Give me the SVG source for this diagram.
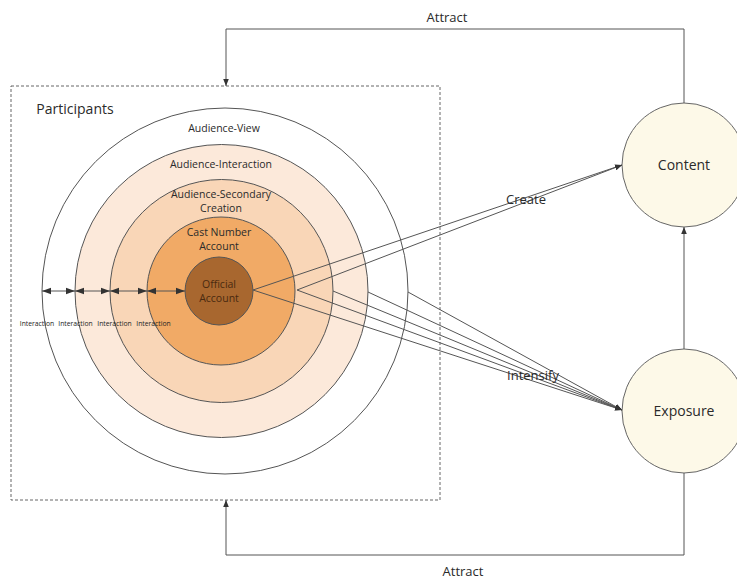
<svg xmlns="http://www.w3.org/2000/svg" width="737" height="579" viewBox="0 0 737 579">
<style>
text{font-family:"Open Sans","Noto Sans","DejaVu Sans",sans-serif;fill:#2a2a2a;text-anchor:middle}
.ring{stroke:#555;stroke-width:1}
.ln{stroke:#555;stroke-width:1;fill:none}
.lbl{font-size:10.5px}
.sm{font-size:6.8px;fill:#222}
.big{font-size:14px}
.node{fill:#fdf9e8;stroke:#666;stroke-width:1}
</style>
<defs>
<marker id="ah" viewBox="0 0 10 10" refX="10" refY="5" markerWidth="7" markerHeight="7" orient="auto-start-reverse" markerUnits="userSpaceOnUse">
<path d="M0,1 L10,5 L0,9 z" fill="#333"/>
</marker>
<marker id="ahb" viewBox="0 0 10 10" refX="10" refY="5" markerWidth="9" markerHeight="9" orient="auto-start-reverse" markerUnits="userSpaceOnUse">
<path d="M0,1.5 L10,5 L0,8.5 z" fill="#333"/>
</marker>
</defs>
<rect width="737" height="579" fill="#fff"/>
<g id="participants">
<rect x="11" y="86" width="429" height="414" fill="none" stroke="#666" stroke-width="1" stroke-dasharray="3,2"/>
<text x="75" y="114" class="big">Participants</text>
</g>
<g id="audience-view">
<circle cx="225" cy="291" r="183" fill="#fff" class="ring"/>
<text x="224" y="132" class="lbl">Audience-View</text>
</g>
<g id="audience-interaction">
<circle cx="221.5" cy="291" r="146.5" fill="#fce9da" class="ring"/>
<text x="221" y="168" class="lbl">Audience-Interaction</text>
</g>
<g id="audience-secondary">
<circle cx="221.5" cy="291" r="111.5" fill="#f9d6b7" class="ring"/>
<text x="221" y="198" class="lbl">Audience-Secondary</text>
<text x="221" y="212" class="lbl">Creation</text>
</g>
<g id="cast-number">
<circle cx="221" cy="291" r="74" fill="#f1aa66" class="ring"/>
<text x="219" y="236" class="lbl">Cast Number</text>
<text x="219" y="250" class="lbl">Account</text>
</g>
<g id="official">
<circle cx="219" cy="291" r="34" fill="#a8672f" class="ring"/>
<text x="219" y="288" class="lbl" style="fill:#4a2a10">Official</text>
<text x="219" y="302" class="lbl" style="fill:#4a2a10">Account</text>
</g>
<g id="content">
<circle cx="684" cy="165" r="62" class="node"/>
<text x="684" y="170" class="big">Content</text>
</g>
<g id="exposure">
<circle cx="684" cy="411" r="62" class="node"/>
<text x="684" y="416" class="big">Exposure</text>
</g>
<g id="connectors">
<line x1="42" y1="291" x2="75" y2="291" class="ln" stroke-width="1.5" marker-start="url(#ahb)" marker-end="url(#ahb)"/>
<line x1="75" y1="291" x2="110" y2="291" class="ln" stroke-width="1.5" marker-start="url(#ahb)" marker-end="url(#ahb)"/>
<line x1="110" y1="291" x2="147" y2="291" class="ln" stroke-width="1.5" marker-start="url(#ahb)" marker-end="url(#ahb)"/>
<line x1="147" y1="291" x2="185" y2="291" class="ln" stroke-width="1.5" marker-start="url(#ahb)" marker-end="url(#ahb)"/>
<line x1="253" y1="290" x2="622" y2="165" class="ln" marker-end="url(#ah)"/>
<line x1="297" y1="290" x2="622" y2="165" class="ln" marker-end="url(#ah)"/>
<line x1="253" y1="290" x2="622" y2="410" class="ln" marker-end="url(#ah)"/>
<line x1="297" y1="290" x2="622" y2="410" class="ln" marker-end="url(#ah)"/>
<line x1="333" y1="291" x2="622" y2="410" class="ln" marker-end="url(#ah)"/>
<line x1="368" y1="292" x2="622" y2="410" class="ln" marker-end="url(#ah)"/>
<line x1="408" y1="292" x2="622" y2="410" class="ln" marker-end="url(#ah)"/>
<line x1="684" y1="349" x2="684" y2="227" class="ln" marker-end="url(#ah)"/>
<polyline points="684,103 684,29 226,29 226,86" class="ln" marker-end="url(#ah)"/>
<polyline points="684,473 684,555 226,555 226,500" class="ln" marker-end="url(#ah)"/>
</g>
<g id="labels">
<text x="37" y="326" class="sm">Interaction</text>
<text x="75.5" y="326" class="sm">Interaction</text>
<text x="114.5" y="326" class="sm">Interaction</text>
<text x="153.5" y="326" class="sm">Interaction</text>
<text x="526" y="204" style="font-size:13px">Create</text>
<text x="533" y="380" style="font-size:13px">Intensify</text>
<text x="447" y="22" style="font-size:13px">Attract</text>
<text x="463" y="576" style="font-size:13px">Attract</text>
</g>
</svg>
